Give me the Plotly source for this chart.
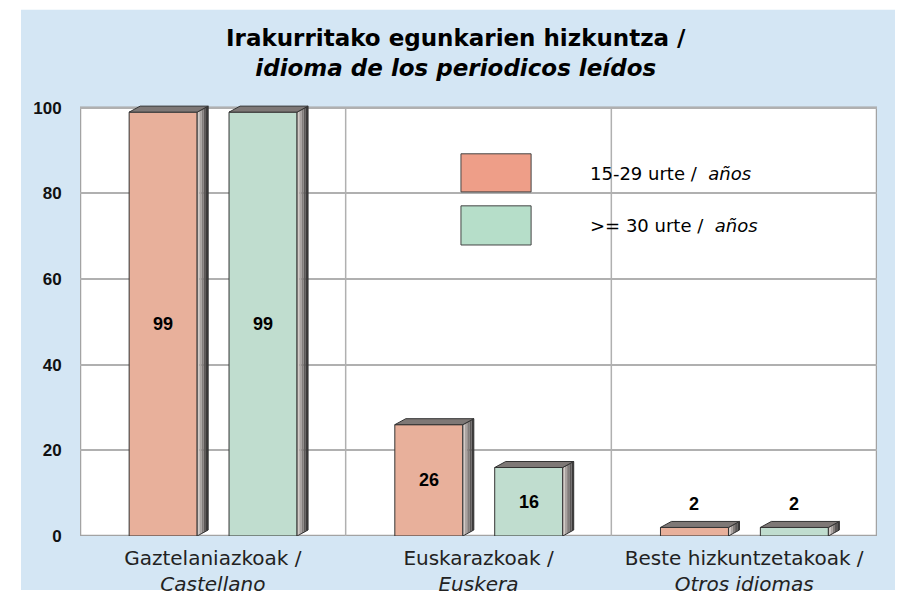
import plotly.graph_objects as go

# ---- data ----
categories = ["Gaztelaniazkoak /<br><i>Castellano</i>",
              "Euskarazkoak /<br><i>Euskera</i>",
              "Beste hizkuntzetakoak /<br><i>Otros idiomas</i>"]
young_vals = [99, 26, 2]      # 15-29 urte / años
older_vals = [99, 16, 2]      # >= 30 urte / años
series_names = ["15-29 urte / <i>años</i>", ">= 30 urte / <i>años</i>"]
y_ticks = [0, 20, 40, 60, 80, 100]

# ---- style ----
front_colors = ["#E8B09B", "#C0DDCF"]
legend_colors = ["#EE9E88", "#B6DEC9"]
side_grad = ["#d2cac6", "#aaa3a0", "#827c7a", "#5c5857", "#3c3a3a"]
top_color = "#7e7876"
edge = "#333333"
bar_w = 0.256
offsets = [-0.187, 0.189]
dx = 0.0414   # depth in x units
dy = 1.4      # depth in y units

fig = go.Figure()
shapes = []
annotations = []

# blue panel background (paper coords)
shapes.append(dict(type="rect", xref="paper", yref="paper", x0=-0.074, x1=1.0226,
                   y0=-0.124, y1=1.2097, fillcolor="#D4E6F4", line=dict(width=0), layer="below"))
# white plot area with frame
shapes.append(dict(type="rect", xref="x", yref="y", x0=-0.5, x1=2.5, y0=0, y1=100,
                   fillcolor="white", line=dict(color="#a3a3a3", width=2.5), layer="below"))
for sx in [0.5, 1.5]:
    shapes.append(dict(type="line", xref="x", yref="y", x0=sx, x1=sx, y0=0, y1=100,
                       line=dict(color="#b0b0b0", width=1.5), layer="below"))

for s, vals in enumerate([young_vals, older_vals]):
    xs = [i + offsets[s] for i in range(len(vals))]
    fig.add_trace(go.Bar(x=xs, y=vals, width=bar_w, name=series_names[s],
                         marker=dict(color=front_colors[s], line=dict(color=edge, width=1)),
                         showlegend=False, hoverinfo="y"))
    for xc, v in zip(xs, vals):
        x1 = xc + bar_w / 2
        x0 = xc - bar_w / 2
        n = len(side_grad)
        for k in range(n):
            a = x1 + dx * k / n
            b = x1 + dx * (k + 1) / n
            ya = dy * k / n
            yb = dy * (k + 1) / n
            shapes.append(dict(type="path", xref="x", yref="y",
                               path=f"M {a},{ya} L {b},{yb} L {b},{v+yb} L {a},{v+ya} Z",
                               fillcolor=side_grad[k], line=dict(width=0), layer="above"))
        # side outline
        shapes.append(dict(type="path", xref="x", yref="y",
                           path=f"M {x1},0 L {x1+dx},{dy} L {x1+dx},{v+dy} L {x1},{v} Z",
                           fillcolor="rgba(0,0,0,0)", line=dict(color=edge, width=1), layer="above"))
        # top face
        shapes.append(dict(type="path", xref="x", yref="y",
                           path=f"M {x0},{v} L {x1},{v} L {x1+dx},{v+dy} L {x0+dx},{v+dy} Z",
                           fillcolor=top_color, line=dict(color=edge, width=1), layer="above"))
        # value label
        ly = v / 2 if v >= 10 else v + 5.5
        annotations.append(dict(x=xc, y=ly, xref="x", yref="y", text=f"<b>{v}</b>",
                                showarrow=False, font=dict(family="Liberation Sans, Arial", size=18, color="black")))

# custom legend
leg_rows = [(0.8786, 0.791, 0.833), (0.759, 0.669, 0.713)]
for s, (ya, yb, yt) in enumerate(leg_rows):
    shapes.append(dict(type="rect", xref="paper", yref="paper", x0=0.478, x1=0.566, y0=yb, y1=ya,
                       fillcolor=legend_colors[s], line=dict(color="#444444", width=1), layer="above"))
    annotations.append(dict(x=0.637, y=yt, xref="paper", yref="paper", xanchor="left", yanchor="middle",
                            text=series_names[s].replace(" / ", " /&nbsp;&nbsp;"), showarrow=False,
                            font=dict(family="DejaVu Sans", size=18, color="black")))

# title
annotations.append(dict(x=0.472, y=1.11, xref="paper", yref="paper", xanchor="center", yanchor="middle",
                        text="<b>Irakurritako egunkarien hizkuntza /</b><br><b><i>idioma de los periodicos leídos</i></b>",
                        showarrow=False,
                        font=dict(family="DejaVu Sans", size=23, color="black")))

fig.update_layout(
    width=900, height=588,
    margin=dict(l=72, r=31, t=93, b=60),
    paper_bgcolor="white", plot_bgcolor="rgba(0,0,0,0)",
    barmode="overlay",
    shapes=shapes, annotations=annotations,
    xaxis=dict(range=[-0.5, 2.5], tickvals=[0, 1, 2], ticktext=categories, automargin=False,
               showgrid=False, zeroline=False, showline=False,
               ticks="outside", ticklen=4, tickcolor="rgba(0,0,0,0)",
               tickfont=dict(family="DejaVu Sans", size=20, color="#222222")),
    yaxis=dict(range=[0, 101.6], tickvals=y_ticks, ticktext=[f"<b>{t}</b>" for t in y_ticks],
               automargin=False,
               showgrid=True, gridcolor="#b0b0b0", gridwidth=1.5, zeroline=False, showline=False,
               ticks="outside", ticklen=14, tickcolor="rgba(0,0,0,0)",
               tickfont=dict(family="Liberation Sans, Arial", size=17, color="#111111")),
)

fig.write_html("out.html")
